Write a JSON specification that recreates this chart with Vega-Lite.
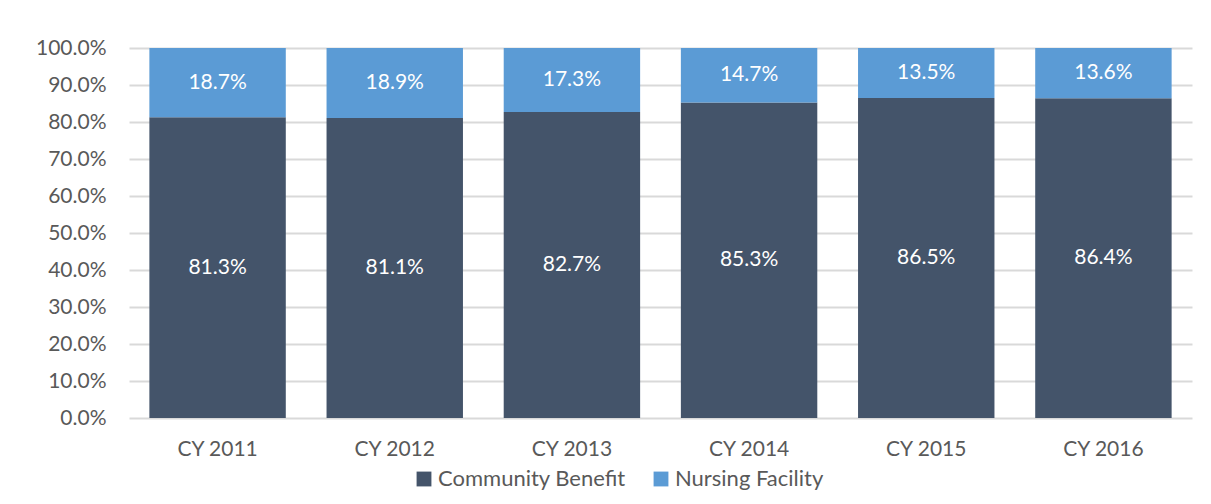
{
  "$schema": "https://vega.github.io/schema/vega-lite/v6.json",
  "width": 1063,
  "height": 370,
  "autosize": {"type": "none"},
  "padding": {"left": 129, "top": 48, "right": 19, "bottom": 86},
  "background": "white",
  "config": {
    "view": {"stroke": null},
    "font": "Lato",
    "axis": {"labelFont": "Lato", "labelColor": "#595959", "labelFontSize": 21},
    "axisY": {
      "values": [0,10,20,30,40,50,60,70,80,90,100],
      "labelOverlap": false, "labelBound": false, "labelFlush": false,
      "domain": false, "ticks": false, "labelPadding": 23,
      "grid": true, "gridColor": "#d9d9d9", "gridWidth": 2
    },
    "legend": {"labelFont": "Lato", "labelColor": "#595959", "labelFontSize": 22}
  },
  "data": {
    "values": [
      {"year": "CY 2011", "type": "Community Benefit", "value": 81.3},
      {"year": "CY 2011", "type": "Nursing Facility", "value": 18.7},
      {"year": "CY 2012", "type": "Community Benefit", "value": 81.1},
      {"year": "CY 2012", "type": "Nursing Facility", "value": 18.9},
      {"year": "CY 2013", "type": "Community Benefit", "value": 82.7},
      {"year": "CY 2013", "type": "Nursing Facility", "value": 17.3},
      {"year": "CY 2014", "type": "Community Benefit", "value": 85.3},
      {"year": "CY 2014", "type": "Nursing Facility", "value": 14.7},
      {"year": "CY 2015", "type": "Community Benefit", "value": 86.5},
      {"year": "CY 2015", "type": "Nursing Facility", "value": 13.5},
      {"year": "CY 2016", "type": "Community Benefit", "value": 86.4},
      {"year": "CY 2016", "type": "Nursing Facility", "value": 13.6}
    ]
  },
  "transform": [
    {"calculate": "datum.type === 'Community Benefit' ? 0 : 1", "as": "ord"},
    {"stack": "value", "groupby": ["year"], "sort": [{"field": "ord", "order": "ascending"}], "as": ["v0", "v1"]},
    {"calculate": "(datum.v0 + datum.v1) / 2", "as": "mid"},
    {"calculate": "format(datum.value, '.1f') + '%'", "as": "label"}
  ],
  "encoding": {
    "x": {
      "field": "year", "type": "nominal",
      "scale": {"paddingInner": 0.23, "paddingOuter": 0.115},
      "axis": {"title": null, "labelAngle": 0, "domain": false, "ticks": false, "labelPadding": 20}
    }
  },
  "layer": [
    {
      "mark": {"type": "bar"},
      "encoding": {
        "y": {
          "field": "v0", "type": "quantitative",
          "scale": {"domain": [0, 100]},
          "axis": {"title": null, "labelExpr": "format(datum.value, '.1f') + '%'", "tickCount": 10}
        },
        "y2": {"field": "v1"},
        "color": {
          "field": "type", "type": "nominal",
          "scale": {"domain": ["Community Benefit", "Nursing Facility"], "range": ["#44546a", "#5b9bd5"]},
          "legend": {
            "title": null, "orient": "none", "direction": "horizontal",
            "legendX": 284, "legendY": 420, "labelLimit": 400,
            "symbolType": "square", "symbolSize": 220, "symbolStrokeWidth": 0, "symbolOpacity": 1,
            "columnPadding": 24, "labelOffset": 3
          }
        }
      }
    },
    {
      "mark": {"type": "text", "color": "white", "fontSize": 21, "font": "Lato"},
      "encoding": {
        "y": {"field": "mid", "type": "quantitative", "axis": {"title": null, "labelExpr": "format(datum.value, '.1f') + '%'", "tickCount": 10}},
        "text": {"field": "label", "type": "nominal"},
        "detail": {"field": "type"}
      }
    }
  ]
}
